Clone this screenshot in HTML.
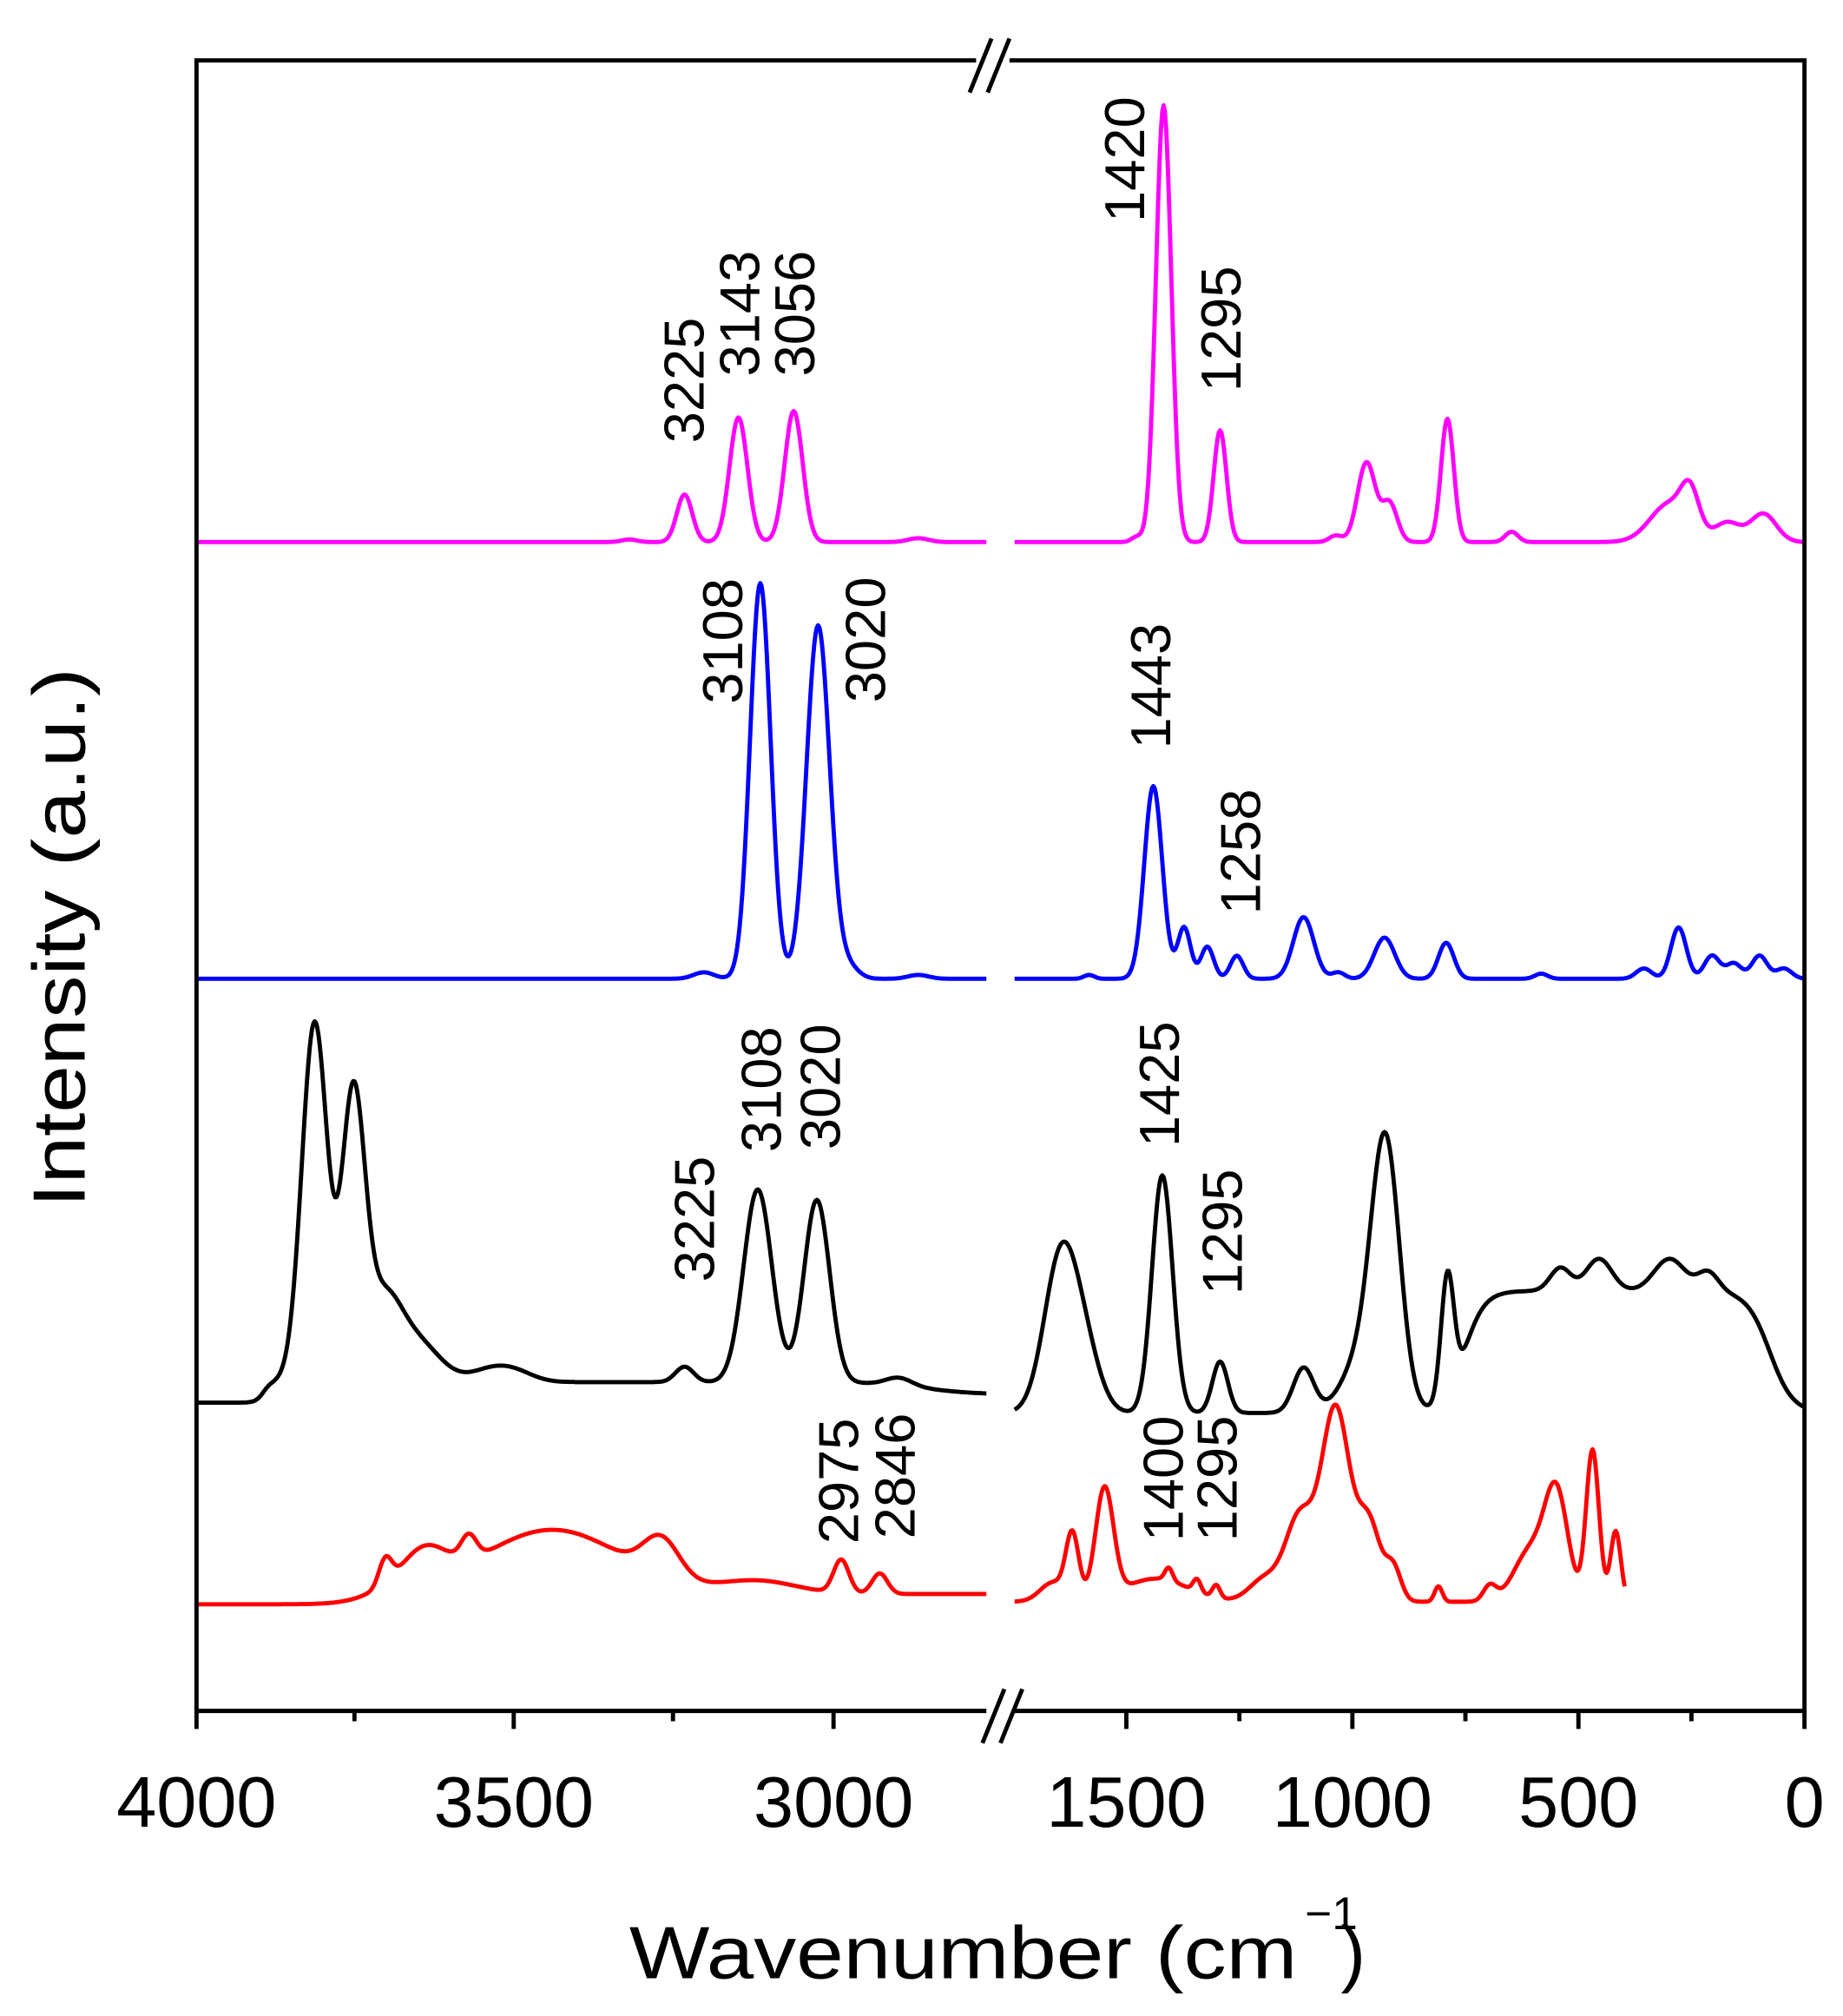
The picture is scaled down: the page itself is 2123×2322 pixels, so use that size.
<!DOCTYPE html>
<html><head><meta charset="utf-8"><style>html,body{margin:0;padding:0;background:#fff}svg{display:block}</style></head>
<body>
<svg id="s" width="2123" height="2322" viewBox="0 0 1435 1569.5" xmlns="http://www.w3.org/2000/svg" font-family="'Liberation Sans', sans-serif">
<g id="curves" fill="none" stroke-width="3.3" stroke-linejoin="round"></g>
<g stroke="#000" stroke-width="3.3" fill="none">
<path d="M760,47 H153 V1332 H768 M790,1332 H1405 V47 H786"/>
<path d="M153,1332 V1346 M400,1332 V1346 M649,1332 V1346 M877,1332 V1346 M1053,1332 V1346 M1229,1332 V1346 M1405,1332 V1346"/>
<path d="M276,1332 V1340 M524,1332 V1340 M965,1332 V1340 M1141,1332 V1340 M1317,1332 V1340"/>
<path d="M755,72 L772,30 M769,72 L786,30 M765,1357 L782,1315 M779,1357 L796,1315"/>
</g>
<g font-size="56" text-anchor="middle" fill="#000">
<text x="153" y="1422">4000</text><text x="400" y="1422">3500</text><text x="649" y="1422">3000</text>
<text x="877" y="1422">1500</text><text x="1053" y="1422">1000</text><text x="1229" y="1422">500</text><text x="1405" y="1422">0</text>
</g>
<text x="490" y="1540" font-size="58" textLength="520" lengthAdjust="spacingAndGlyphs">Wavenumber (cm</text>
<text x="1016" y="1502" font-size="36">−1</text>
<text x="1044" y="1540" font-size="58">)</text>
<text transform="translate(66,940) rotate(-90)" font-size="58" textLength="420" lengthAdjust="spacingAndGlyphs">Intensity (a.u.)</text>
<g font-size="44" fill="#000" id="ann"></g>
</svg>
<script>
function sig(z){return 1/(1+Math.exp(-z));}
function mk(x0,x1,base,g,extra){
  let d='';
  for(let x=x0;x<=x1;x+=1){
    let y=base;
    for(const p of g){y-=p[1]*Math.exp(-((x-p[0])**2)/(2*p[2]*p[2]));}
    if(extra) y-=extra(x);
    d+=(x===x0?'M':'L')+x+','+y.toFixed(1);
  }
  return d;
}
const C=document.getElementById('curves');
function add(d,c){const p=document.createElementNS('http://www.w3.org/2000/svg','path');p.setAttribute('d',d);p.setAttribute('stroke',c);C.appendChild(p);}
add(mk(153,768,422,[[533,37,6],[575,97,7],[618,102,7],[715,3,8],[490,2,6]]),'#ff00ff');
add(mk(790,1405,422,[[906,340,6],[950,87,5],[1064,62,7],[1082,30,6],[1127,96,5],[1177,8,5],[1300,30,15],[1316,30,7],[1345,15,10],[1373,22,10],[1040,5,5],[885,4,4]]),'#ff00ff');
add(mk(153,768,762,[[548,5,8],[592,308,8],[637,275,9],[660,10,8],[715,3,8]]),'#0000ff');
add(mk(790,1405,762,[[848,3,4],[898,150,7],[922,40,5],[940,25,5],[963,18,5],[1015,48,8],[1042,5,5],[1078,32,8],[1126,28,6],[1200,4,5],[1280,8,6],[1307,40,6],[1333,18,6],[1350,12,6],[1370,18,6],[1389,8,6]]),'#0000ff');
add(mk(153,768,1092,[[245,280,10],[275,215,9],[298,60,14],[325,30,18],[590,150,11],[636,142,10],[533,12,7],[700,6,10],[380,8,15],[400,8,15]],x=>16*sig((x-205)/3)*(1-0.6*sig((x-720)/20))),'#000');
add(mk(790,1405,1100,[[826,120,13],[845,40,12],[905,185,8],[950,40,6],[1015,35,8],[1079,200,11],[1060,40,15],[1127,95,5],[1215,18,8],[1245,25,10],[1300,25,12],[1330,15,8]],x=>95*sig((x-1140)/8)*sig((1378-x)/9)),'#000');
add(mk(153,768,1249,[[430,50,55],[300,20,5],[330,28,18],[365,18,6],[515,30,14],[655,26,6],[685,16,6],[590,10,30]],x=>8*sig((x-280)/10)),'#ff0000');
add(mk(790,1265,1247,[[835,50,5],[860,85,7],[820,15,10],[900,18,25],[910,10,3],[932,10,3],[947,10,3],[985,18,12],[1040,150,11],[1012,65,11],[1066,60,9],[1085,25,6],[1120,12,3],[1160,12,5],[1212,80,9],[1192,40,13],[1240,118,5],[1258,55,4]]),'#ff0000');
const A=[[548,345,'3225'],[591,293,'3143'],[634,293,'3056'],[891,173,'1420'],[966,305,'1295'],[578,548,'3108'],[689,547,'3020'],[911,583,'1443'],[981,712,'1258'],[556,998,'3225'],[608,897,'3108'],[654,895,'3020'],[918,893,'1425'],[967,1008,'1295'],[668,1202,'2975'],[712,1198,'2846'],[921,1200,'1400'],[963,1200,'1295']];
const G=document.getElementById('ann');
for(const a of A){const t=document.createElementNS('http://www.w3.org/2000/svg','text');t.setAttribute('transform','translate('+a[0]+','+a[1]+') rotate(-90)');t.textContent=a[2];G.appendChild(t);}
</script>
</body></html>
